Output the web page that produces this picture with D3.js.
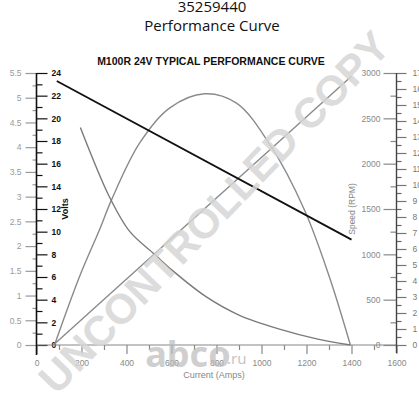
<!DOCTYPE html>
<html>
<head>
<meta charset="utf-8">
<script src="https://cdn.jsdelivr.net/npm/d3@7/dist/d3.min.js"></script>
<style>
body { margin: 0; background: #fff; }
svg { display: block; font-family: "Liberation Sans", Arial, sans-serif; }
</style>
</head>
<body>
<div id="chart"></div>
<script>
// tick values for every axis
var currentTicks = [0, 200, 400, 600, 800, 1000, 1200, 1400, 1600];
var powerTicks = [0, 0.5, 1, 1.5, 2, 2.5, 3, 3.5, 4, 4.5, 5, 5.5];
var voltTicks = [0, 2, 4, 6, 8, 10, 12, 14, 16, 18, 20, 22, 24];
var rpmTicks = [0, 500, 1000, 1500, 2000, 2500, 3000];
var torqueTicks = [0, 1, 2, 3, 4, 5, 6, 7, 8, 9, 10, 11, 12, 13, 14, 15, 16, 17];

// curves (current in Amps)
var powerAmps = [80, 191, 280, 333, 458, 591, 747, 889, 1043, 1191, 1300, 1395];
var powerKw = [0, 1.38, 2.33, 2.93, 4.08, 4.79, 5.08, 4.89, 4.01, 2.73, 1.4, 0];
var speedAmps = [195, 325, 415, 525, 605, 755, 900, 1080, 1250, 1395];
var speedRpm = [2400, 1630, 1250, 1000, 820, 530, 330, 175, 65, 0];
var voltAmps = [90, 1400];
var voltVals = [23.3, 9.3];
var torqueAmps = [75, 1400];
var torqueVals = [0, 16.8];

var width = 419, height = 400;
var top_ = 73, bottom = 345, left = 36.5, right = 396.5;

var svg = d3.select("#chart").append("svg")
	.attr("width", width)
	.attr("height", height);

var x = d3.scaleLinear().domain([0, 1600]).range([left, right]);
var yPow = d3.scaleLinear().domain([0, 5.5]).range([bottom, top_]);
var yVolt = d3.scaleLinear().domain([0, 24]).range([bottom, top_]);
var yRpm = d3.scaleLinear().domain([0, 3000]).range([bottom, top_]);
var yTorq = d3.scaleLinear().domain([0, 17]).range([bottom, top_]);

var plain = function(d) { return String(d); };

// titles
svg.append("text").attr("x", 212).attr("y", 12).attr("text-anchor", "middle")
	.style("font-family", "'Open Sans', sans-serif").style("font-size", "15px").style("fill", "#111")
	.text("35259440");
svg.append("text").attr("x", 212).attr("y", 31).attr("text-anchor", "middle")
	.style("font-family", "'Open Sans', sans-serif").style("font-size", "15px").style("fill", "#111")
	.text("Performance Curve");
svg.append("text").attr("x", 211).attr("y", 65).attr("text-anchor", "middle")
	.style("font-size", "10.5px").style("font-weight", "bold").style("fill", "#111")
	.text("M100R 24V TYPICAL PERFORMANCE CURVE");

function styleAxis(g, col, fontSize, weight) {
	g.select(".domain").remove();
	g.selectAll("line").style("stroke", col).style("stroke-width", 1.2);
	g.selectAll("text").style("fill", col).style("font-size", fontSize).style("font-weight", weight)
		.style("font-family", "'Liberation Sans', Arial, sans-serif");
}

// power axis (gray, far left)
svg.append("g").attr("transform", "translate(" + left + ",0)")
	.call(d3.axisLeft(yPow).tickValues(d3.range(0.25, 5.5, 0.5)).tickSize(4).tickFormat(""))
	.call(styleAxis, "#999", "8px", "normal");
svg.append("g").attr("transform", "translate(" + left + ",0)")
	.call(d3.axisLeft(yPow).tickValues(powerTicks).tickSize(11).tickPadding(4).tickFormat(plain))
	.call(styleAxis, "#999", "8.5px", "normal");

// volts axis (black)
svg.append("g").attr("transform", "translate(" + left + ",0)")
	.call(d3.axisRight(yVolt).tickValues(d3.range(1, 24, 2)).tickSize(6).tickFormat(""))
	.call(styleAxis, "#111", "8px", "normal");
svg.append("g").attr("transform", "translate(" + left + ",0)")
	.call(d3.axisRight(yVolt).tickValues(voltTicks).tickSize(11).tickPadding(4).tickFormat(plain))
	.call(styleAxis, "#111", "8.5px", "bold");

// current axis
svg.append("g").attr("transform", "translate(0," + bottom + ")")
	.call(d3.axisBottom(x).tickValues(d3.range(100, 1600, 200)).tickSize(5).tickFormat(""))
	.call(styleAxis, "#888", "8px", "normal");
svg.append("g").attr("transform", "translate(0," + bottom + ")")
	.call(d3.axisBottom(x).tickValues(currentTicks).tickSize(9).tickPadding(6).tickFormat(plain))
	.call(styleAxis, "#888", "8.5px", "normal");

// speed axis (right, labels on the inside)
svg.append("g").attr("transform", "translate(" + right + ",0)")
	.call(d3.axisLeft(yRpm).tickValues(d3.range(250, 3000, 500)).tickSize(6).tickFormat(""))
	.call(styleAxis, "#888", "8px", "normal");
svg.append("g").attr("transform", "translate(" + right + ",0)")
	.call(d3.axisLeft(yRpm).tickValues(rpmTicks).tickSize(13).tickPadding(3).tickFormat(plain))
	.call(styleAxis, "#888", "8.5px", "normal");

// torque axis (right, outside, cut off by the page edge)
svg.append("g").attr("transform", "translate(" + right + ",0)")
	.call(d3.axisRight(yTorq).tickValues(d3.range(0.5, 17, 1)).tickSize(5).tickFormat(""))
	.call(styleAxis, "#666", "8px", "normal");
svg.append("g").attr("transform", "translate(" + right + ",0)")
	.call(d3.axisRight(yTorq).tickValues(torqueTicks).tickSize(10).tickPadding(6).tickFormat(plain))
	.call(styleAxis, "#777", "8.5px", "normal");

// axis lines
svg.append("line").attr("x1", left).attr("x2", right).attr("y1", bottom).attr("y2", bottom)
	.style("stroke", "#888").style("stroke-width", 1.2);
svg.append("line").attr("x1", left).attr("x2", left).attr("y1", top_).attr("y2", bottom + 10)
	.style("stroke", "#111").style("stroke-width", 1.6);
svg.append("line").attr("x1", right).attr("x2", right).attr("y1", top_).attr("y2", bottom + 8)
	.style("stroke", "#444").style("stroke-width", 1.4);

// axis titles
svg.append("text").attr("transform", "translate(68,209) rotate(-90)").attr("text-anchor", "middle")
	.style("font-size", "9px").style("font-weight", "bold").style("fill", "#111").text("Volts");
svg.append("text").attr("transform", "translate(355,209) rotate(-90)").attr("text-anchor", "middle")
	.style("font-size", "8.5px").style("fill", "#888").text("Speed (RPM)");
svg.append("text").attr("x", 214).attr("y", 378).attr("text-anchor", "middle")
	.style("font-size", "9px").style("fill", "#888").text("Current (Amps)");

// curves
var smooth = d3.line().curve(d3.curveCatmullRom.alpha(0.5));

svg.append("path")
	.attr("d", smooth(torqueAmps.map(function(a, i) { return [x(a), yTorq(torqueVals[i])]; })))
	.style("fill", "none").style("stroke", "#8a8a8a").style("stroke-width", 1.4);
svg.append("path")
	.attr("d", smooth(powerAmps.map(function(a, i) { return [x(a), yPow(powerKw[i])]; })))
	.style("fill", "none").style("stroke", "#8a8a8a").style("stroke-width", 1.4);
svg.append("path")
	.attr("d", smooth(speedAmps.map(function(a, i) { return [x(a), yRpm(speedRpm[i])]; })))
	.style("fill", "none").style("stroke", "#7a7a7a").style("stroke-width", 1.4);
svg.append("path")
	.attr("d", smooth(voltAmps.map(function(a, i) { return [x(a), yVolt(voltVals[i])]; })))
	.style("fill", "none").style("stroke", "#111").style("stroke-width", 1.8);

// watermarks
svg.append("text").attr("x", 188).attr("y", 367).attr("text-anchor", "middle")
	.style("font-family", "'Noto Sans', sans-serif").style("font-size", "36px").style("font-weight", "bold")
	.style("fill", "#bbb").style("opacity", 0.7).text("abco");
svg.append("text").attr("x", 227).attr("y", 364)
	.style("font-family", "'Noto Sans', sans-serif").style("font-size", "15px")
	.style("fill", "#bbb").style("opacity", 0.85).text(".ru");
svg.append("text").attr("transform", "translate(214,212) rotate(-46)").attr("text-anchor", "middle")
	.attr("dy", "0.35em")
	.style("font-size", "42px").style("font-weight", "bold")
	.style("fill", "#d6d6d6").style("opacity", 0.85).text("UNCONTROLLED COPY");
</script>
</body>
</html>
